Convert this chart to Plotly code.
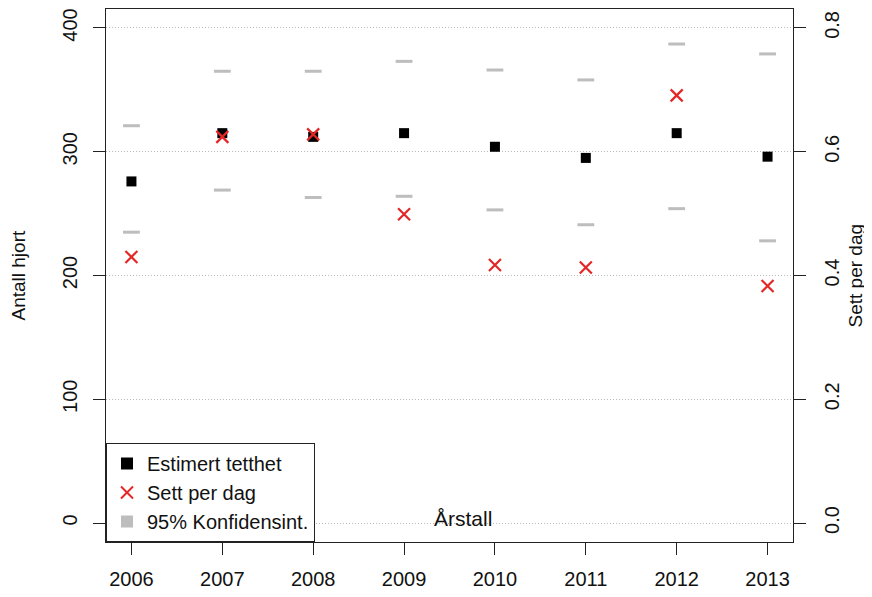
import plotly.graph_objects as go

years = [2006, 2007, 2008, 2009, 2010, 2011, 2012, 2013]
estimert = [276, 315, 312, 315, 304, 295, 315, 296]
sett_per_dag = [0.43, 0.624, 0.628, 0.499, 0.417, 0.413, 0.691, 0.383]
ci_upper = [321, 365, 365, 373, 366, 358, 387, 379]
ci_lower = [235, 269, 263, 264, 253, 241, 254, 228]

left_ticks = [0, 100, 200, 300, 400]
right_ticks = [0.0, 0.2, 0.4, 0.6, 0.8]
right_labels = ["0.0", "0.2", "0.4", "0.6", "0.8"]

FONT = "Liberation Sans, Arial, sans-serif"
FS = 21
GRAY = "#bdbdbd"
RED = "#e32626"

fig = go.Figure()

# CI dashes (no legend)
fig.add_trace(go.Scatter(
    x=years + years, y=ci_upper + ci_lower, mode="markers",
    marker=dict(symbol="line-ew", size=12, line=dict(width=3, color=GRAY), color=GRAY),
    showlegend=False, hoverinfo="skip"))

fig.add_trace(go.Scatter(
    x=years, y=estimert, mode="markers", name="Estimert tetthet",
    marker=dict(symbol="square", size=10, color="black")))

fig.add_trace(go.Scatter(
    x=years, y=sett_per_dag, mode="markers", name="Sett per dag", yaxis="y2",
    marker=dict(symbol="x-thin", size=12, line=dict(width=2.2, color=RED), color=RED)))

# legend-only entry for CI
fig.add_trace(go.Scatter(
    x=[None], y=[None], mode="markers", name="95% Konfidensint.",
    marker=dict(symbol="square", size=9, color=GRAY)))

# page body has an 8px default margin, so the figure is sized to fit the window
fig.update_layout(
    width=864, height=589,
    margin=dict(l=98, r=79, t=1, b=55),
    paper_bgcolor="white", plot_bgcolor="white",
    font=dict(family=FONT, size=FS, color="#111"),
    xaxis=dict(range=[2005.72, 2013.28], tickmode="array", tickvals=years,
               ticks="outside", ticklen=12, tickcolor="#222", showgrid=False,
               ticklabelstandoff=7,
               zeroline=False, showline=True, linecolor="#222", mirror=True,
               tickfont=dict(size=FS - 1), automargin=False),
    yaxis=dict(range=[-15.3, 415.3], tickmode="array", tickvals=left_ticks,
               ticks="outside", ticklen=12, tickcolor="#222", tickangle=-90,
               ticklabelstandoff=8,
               showgrid=True, gridcolor="#b8b8b8", griddash="1px,2px", gridwidth=1,
               zeroline=False, showline=True, linecolor="#222",
               tickfont=dict(size=FS - 1), automargin=False),
    yaxis2=dict(range=[-0.0306, 0.8306], tickmode="array", tickvals=right_ticks,
                ticktext=right_labels, overlaying="y", side="right",
                ticks="outside", ticklen=12, tickcolor="#222", tickangle=-90,
                ticklabelstandoff=9,
                showgrid=False, zeroline=False, showline=True, linecolor="#222",
                tickfont=dict(size=FS - 1), automargin=False),
    legend=dict(x=0, y=0, xanchor="left", yanchor="bottom",
                bordercolor="#222", borderwidth=1, bgcolor="white",
                font=dict(size=FS - 1), tracegroupgap=0, itemsizing="constant"),
    annotations=[
        dict(text="Årstall", xref="paper", yref="paper",
             x=0.52, y=0.045, xanchor="center", yanchor="middle",
             showarrow=False, font=dict(size=FS)),
        dict(text="Antall hjort", xref="paper", yref="paper",
             x=-88 / 687, y=0.5, xanchor="center", yanchor="middle",
             textangle=-90, showarrow=False, font=dict(size=FS - 2)),
        dict(text="Sett per dag", xref="paper", yref="paper",
             x=1 + 62 / 687, y=0.5, xanchor="center", yanchor="middle",
             textangle=-90, showarrow=False, font=dict(size=FS - 2)),
    ],
)

fig.write_html("out.html")
